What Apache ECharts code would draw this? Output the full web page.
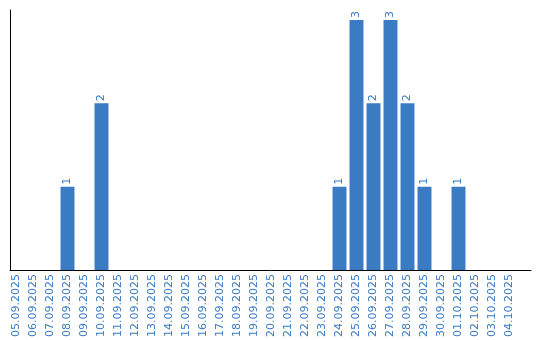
<!DOCTYPE html>
<html><head><meta charset="utf-8">
<script src="https://cdn.jsdelivr.net/npm/echarts@6/dist/echarts.min.js"></script>
<style>html,body{margin:0;padding:0;background:#fff}#c{width:540px;height:340px}</style>
</head><body><div id="c"></div>
<script>
const categories = ["05.09.2025","06.09.2025","07.09.2025","08.09.2025","09.09.2025","10.09.2025","11.09.2025","12.09.2025","13.09.2025","14.09.2025","15.09.2025","16.09.2025","17.09.2025","18.09.2025","19.09.2025","20.09.2025","21.09.2025","22.09.2025","23.09.2025","24.09.2025","25.09.2025","26.09.2025","27.09.2025","28.09.2025","29.09.2025","30.09.2025","01.10.2025","02.10.2025","03.10.2025","04.10.2025"];
const values = [0,0,0,1,0,2,0,0,0,0,0,0,0,0,0,0,0,0,0,1,3,2,3,2,1,0,1,0,0,0];
const color = '#3a7bc4';
const chart = echarts.init(document.getElementById('c'));
chart.setOption({
  animation:false,
  grid:[{left:8, right:22, top:10, bottom:70},{left:10, right:9, top:10, bottom:70}],
  xAxis:[{type:'category', data:categories, gridIndex:0,
    axisLine:{show:false}, axisTick:{show:false},
    axisLabel:{rotate:90, interval:0, margin:4, color:color, fontFamily:'DejaVu Sans', fontSize:11}},
    {type:'category', data:[''], gridIndex:1, axisLine:{show:true, lineStyle:{color:'#000', width:1}},
    axisTick:{show:false}, axisLabel:{show:false}}],
  yAxis:[{type:'value', gridIndex:0, min:0, max:3.12, axisLine:{show:false},
    axisTick:{show:false}, axisLabel:{show:false}, splitLine:{show:false}},
    {type:'value', gridIndex:1, min:0, max:1, axisLine:{show:true, lineStyle:{color:'#000', width:1}},
    axisTick:{show:false}, axisLabel:{show:false}, splitLine:{show:false}}],
  series:[{type:'bar', xAxisIndex:0, yAxisIndex:0, data:values, barCategoryGap:'18%', itemStyle:{color:color},
    label:{show:true, position:'top', rotate:90, align:'left', verticalAlign:'middle', distance:2,
      color:color, fontFamily:'DejaVu Sans', fontSize:11,
      formatter:p=>p.value ? String(p.value) : ''}}]
});
</script></body></html>
